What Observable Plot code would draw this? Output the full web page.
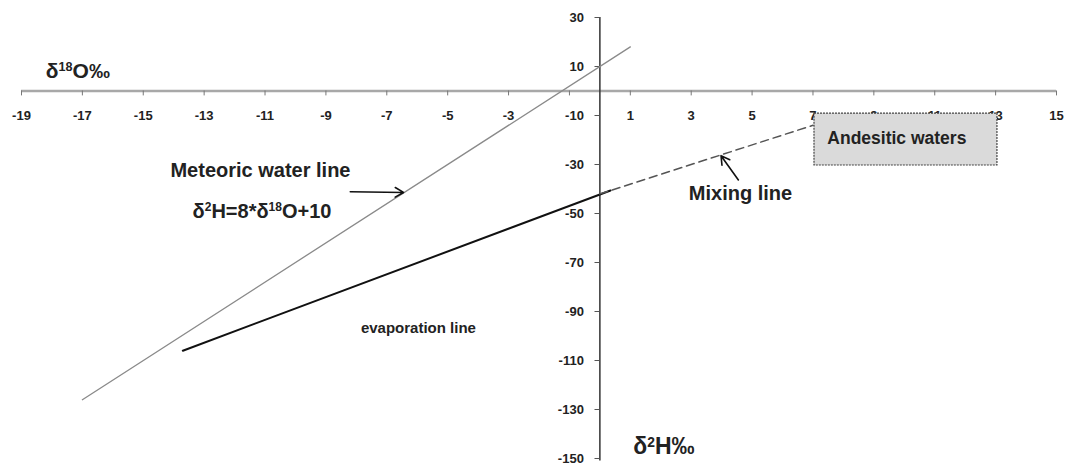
<!DOCTYPE html>
<html>
<head>
<meta charset="utf-8">
<script src="https://cdn.jsdelivr.net/npm/d3@7"></script>
<script src="https://cdn.jsdelivr.net/npm/@observablehq/plot@0.6"></script>
<style>
  html, body { margin: 0; padding: 0; background: #fff; }
  svg { display: block; }
</style>
</head>
<body>
<div id="chart"></div>
<script>
// Axis ticks (δ18O on the horizontal axis, δ2H on the vertical axis)
const xTicks = [-19, -17, -15, -13, -11, -9, -7, -5, -3, 1, 3, 5, 7, 9, 11, 13, 15];
const xTickMarks = [-19, -17, -15, -13, -11, -9, -7, -5, -3, -1, 1, 3, 5, 7, 9, 11, 13, 15];
const yTicks = [30, 10, -10, -30, -50, -70, -90, -110, -130, -150];

// Lines (δ18O, δ2H)
const meteoricLine = [{x: -17, y: -126}, {x: 1, y: 18}];
const evaporationLine = [{x: -13.7, y: -106}, {x: 0.35, y: -40.6}];
const mixingLine = [{x: 0, y: -42}, {x: 7, y: -14}];

// Field of andesitic waters
const andesitic = [{x1: 7.05, x2: 13.06, y1: -9.2, y2: -30.4, label: "Andesitic waters"}];

// Annotations
const centeredLabels = [
  {x: -11.15, y: -32.4, text: "Meteoric water line", size: 20},
  {x: -11.1, y: -49.2, text: "δ^2H=8*δ^18O+10", size: 20},
  {x: 4.62, y: -41.8, text: "Mixing line", size: 20}
];
const leftLabels = [
  {x: -18.2, y: 8.2, text: "δ^18O‰", size: 21},
  {x: -7.85, y: -97, text: "evaporation line", size: 15},
  {x: 1.1, y: -145.3, text: "δ^2H‰", size: 23}
];
const arrows = [
  {x1: -8.2, y1: -41.1, x2: -6.45, y2: -41.4},
  {x1: 4.55, y1: -36.3, x2: 3.98, y2: -26.4}
];

const font = "'Liberation Sans', Arial, sans-serif";

const chart = Plot.plot({
  width: 1066,
  height: 466,
  marginLeft: 21,
  marginRight: 10,
  marginTop: 17,
  marginBottom: 8,
  x: {domain: [-19, 15], axis: null},
  y: {domain: [-150, 30], axis: null},
  style: {fontFamily: font, background: "#fff"},
  marks: [
    // horizontal axis through δ2H = 0
    Plot.ruleY([0], {x1: -19, x2: 15, stroke: "#a8a8a8", strokeWidth: 2.5}),
    Plot.ruleX(xTickMarks, {x: d => d, y1: 0, y2: -2, stroke: "#777", strokeWidth: 1}),
    Plot.text(xTicks, {x: d => d, y: 0, dy: 25, text: d => String(d), fontSize: 13, fontWeight: "bold", fill: "#222"}),
    // vertical axis through δ18O = 0
    Plot.ruleX([0], {y1: -151, y2: 30, stroke: "#333", strokeWidth: 1.5}),
    Plot.ruleY(yTicks, {y: d => d, x1: -0.16, x2: 0, stroke: "#555", strokeWidth: 1}),
    Plot.text(yTicks, {x: 0, y: d => d, dx: -16, text: d => String(d), textAnchor: "end", fontSize: 13, fontWeight: "bold", fill: "#222"}),
    // lines
    Plot.line(meteoricLine, {x: "x", y: "y", stroke: "#8a8a8a", strokeWidth: 1.3}),
    Plot.line(evaporationLine, {x: "x", y: "y", stroke: "#111", strokeWidth: 2}),
    Plot.line(mixingLine, {x: "x", y: "y", stroke: "#555", strokeWidth: 1.5, strokeDasharray: "8,5"}),
    // andesitic waters field
    Plot.rect(andesitic, {x1: "x1", x2: "x2", y1: "y1", y2: "y2", fill: "#dadada", stroke: "#444", strokeWidth: 1.2, strokeDasharray: "2,1"}),
    Plot.text(andesitic, {x: d => (d.x1 + d.x2) / 2 - 0.3, y: d => (d.y1 + d.y2) / 2 + 0.5, text: "label", fontSize: 17.5, fontWeight: "bold", fill: "#222"}),
    // annotations
    Plot.arrow(arrows, {x1: "x1", y1: "y1", x2: "x2", y2: "y2", stroke: "#111", strokeWidth: 1.6, headLength: 9}),
    Plot.text(centeredLabels, {x: "x", y: "y", text: "text", fontSize: "size", textAnchor: "middle", fontWeight: "bold", fill: "#222"}),
    Plot.text(leftLabels, {x: "x", y: "y", text: "text", fontSize: "size", textAnchor: "start", fontWeight: "bold", fill: "#222"})
  ]
});

// Turn "^nn" markers into superscripts
const ns = "http://www.w3.org/2000/svg";
chart.querySelectorAll("text").forEach(t => {
  if (!t.textContent.includes("^")) return;
  const parts = t.textContent.split(/(\^\d+)/);
  t.textContent = "";
  parts.forEach(p => {
    if (!p) return;
    const ts = document.createElementNS(ns, "tspan");
    if (p.startsWith("^")) {
      ts.textContent = p.slice(1);
      ts.setAttribute("baseline-shift", "super");
      ts.setAttribute("font-size", "60%");
    } else {
      ts.textContent = p;
    }
    t.appendChild(ts);
  });
});

document.getElementById("chart").appendChild(chart);
</script>
</body>
</html>
